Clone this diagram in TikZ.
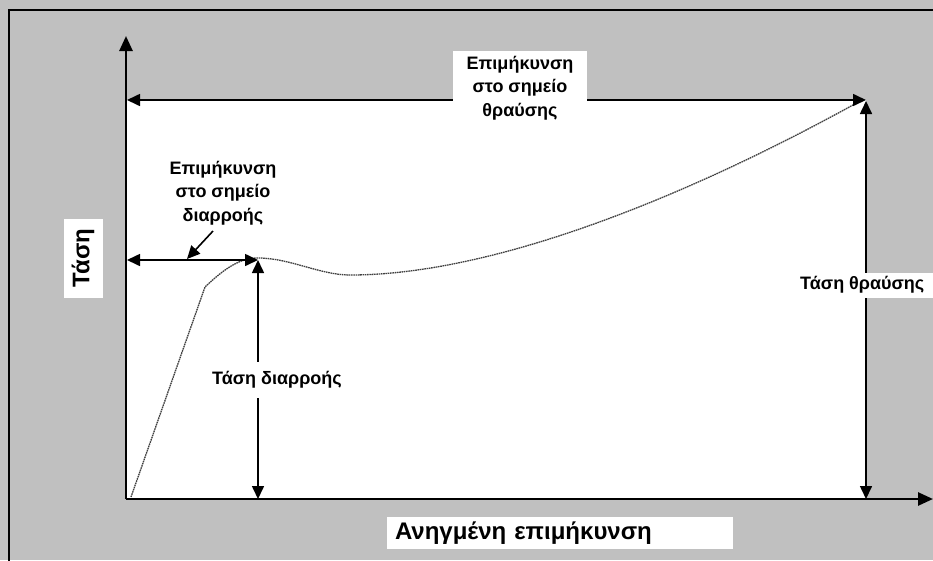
\documentclass[tikz,border=0pt]{standalone}
\usepackage{fontspec}
\setmainfont{Liberation Sans}
\usetikzlibrary{arrows.meta}
\definecolor{panelgray}{RGB}{192,192,192}
\begin{document}
\begin{tikzpicture}[x=1pt,y=-1pt,
  axisline/.style={line width=2.6pt,-{Triangle[length=15pt,width=13pt]}},
  dimline/.style={line width=1.6pt,{Triangle[length=13pt,width=12pt]}-{Triangle[length=13pt,width=12pt]}},
  pointer/.style={line width=1.6pt,-{Triangle[length=13pt,width=12pt]}},
  curveline/.style={draw=black!75,line width=1.3pt,dash pattern=on 1.6pt off 0.7pt},
  lbl/.style={fill=white,font=\bfseries\fontsize{18}{23.5}\selectfont,align=center,inner sep=0pt},
  axlbl/.style={fill=white,font=\bfseries\fontsize{24}{28}\selectfont,inner sep=0pt}]
\useasboundingbox (0,0) rectangle (933,560);
\fill[panelgray] (0,0) rectangle (933,560);
\draw[line width=2pt] (9,10) rectangle (950,580);
\fill[white] (127,100) rectangle (866,499);
\coordinate (O) at (126,499);
\coordinate (ytop) at (126,36);
\coordinate (xend) at (933,499);
\coordinate (ya) at (127,260);
\coordinate (yld) at (258,260);
\coordinate (yldfoot) at (258,499);
\coordinate (ta) at (127,100);
\coordinate (brk) at (866,100);
\coordinate (brkfoot) at (866,499);
\coordinate (ptrtail) at (213,231);
\coordinate (ptr) at (187,259);
% stress-strain curve
\draw[curveline] (131,497) -- (205,287)
  .. controls (225,268) and (240,258) .. (258,258)
  .. controls (290,258) and (320,275) .. (350,275)
  .. controls (500,275) and (700,190) .. (862,100);
\draw[axisline] (O) -- (ytop);
\draw[axisline] (O) -- (xend);
\draw[dimline] (ta) -- (brk);
\draw[dimline] ([yshift=-1pt]brk) -- (brkfoot);
\draw[dimline] (ya) -- (yld);
\draw[dimline] (yld) -- (yldfoot);
\draw[pointer] (ptrtail) -- (ptr);
\node[lbl, minimum width=134pt, minimum height=74pt] (brklen) at (520,88) {Επιμήκυνση\\στο σημείο\\θραύσης};
\node[lbl, inner sep=3pt] (yldlen) at (223,193) {Επιμήκυνση\\στο σημείο\\διαρροής};
\node[lbl, minimum width=145pt, minimum height=36pt] (yldstress) at (277,380) {Τάση διαρροής};
\node[lbl, minimum height=25pt, anchor=west, inner xsep=22pt] (brkstress) at (778,285) {Τάση θραύσης};
\node[axlbl, rotate=90, minimum width=79pt, minimum height=39pt] (ylabel) at (83,258) {Τάση};
\node[axlbl, minimum width=346pt, minimum height=32pt, text width=330pt, align=left] (xlabel) at (560,533) {Ανηγμένη επιμήκυνση};
\end{tikzpicture}
\end{document}
